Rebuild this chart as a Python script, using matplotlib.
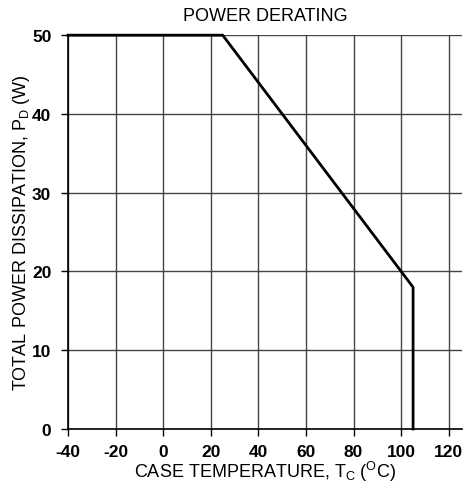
import matplotlib
matplotlib.use("Agg")
import matplotlib.pyplot as plt

plt.rcParams['font.family'] = ['Liberation Sans', 'DejaVu Sans']
plt.rcParams['mathtext.fontset'] = 'custom'
plt.rcParams['mathtext.rm'] = 'Liberation Sans'
plt.rcParams['mathtext.it'] = 'Liberation Sans'
plt.rcParams['axes.unicode_minus'] = False

temp_c = [-40, 25, 105, 105]
power_w = [50, 50, 18, 0]
x_ticks = [-40, -20, 0, 20, 40, 60, 80, 100, 120]
y_ticks = [0, 10, 20, 30, 40, 50]

fig = plt.figure(figsize=(4.67, 4.89), dpi=100)
ax = fig.add_axes([0.1456, 0.1207, 0.989 - 0.1456, 0.926 - 0.1207])
ax.set_xlim(-40, 125.5)
ax.set_ylim(0, 50)
ax.set_xticks(x_ticks)
ax.set_yticks(y_ticks)
ax.grid(True, color='#444444', linewidth=1.0)
ax.set_axisbelow(True)
for s in ['right', 'top']:
    ax.spines[s].set_visible(False)
for s in ['left', 'bottom']:
    ax.spines[s].set_linewidth(1.2)
ax.tick_params(direction='out', length=5, width=1.0)
ax.tick_params(axis='x', pad=6)
ax.tick_params(axis='y', pad=7)
for lbl in ax.get_xticklabels() + ax.get_yticklabels():
    lbl.set_fontweight('bold')
    lbl.set_fontsize(12.5)
ax.plot(temp_c, power_w, color='black', linewidth=2.0, clip_on=False, zorder=3)
ax.set_title('POWER DERATING', fontsize=13, pad=11)
ax.set_xlabel(r'CASE TEMPERATURE, T$_\mathregular{C}$ ($^\mathregular{O}$C)', fontsize=13, labelpad=0)
ax.set_ylabel(r'TOTAL POWER DISSIPATION, P$_\mathregular{D}$ (W)', fontsize=13, labelpad=0)
fig.savefig('out.png', dpi=100)
